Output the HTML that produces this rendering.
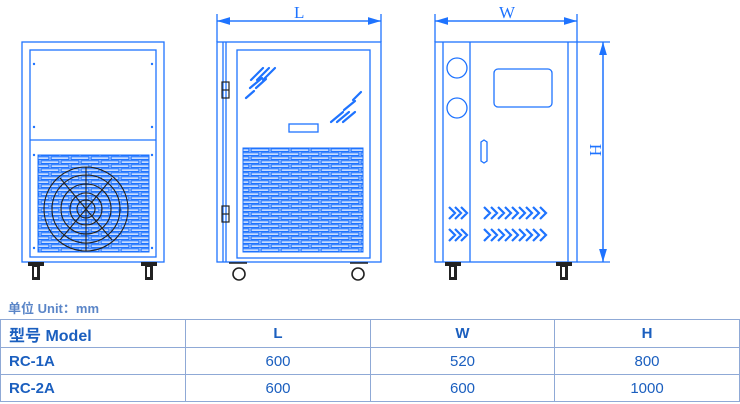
<!DOCTYPE html>
<html><head><meta charset="utf-8"><style>
body{margin:0;background:#fff;width:740px;height:404px;overflow:hidden;font-family:"Liberation Sans","Noto Sans CJK SC",sans-serif}
svg{position:absolute;left:0;top:0}
.u{position:absolute;left:8px;top:298px;font-size:13px;color:#5b86c8;font-weight:bold}
table{position:absolute;left:0;top:319px;width:740px;border-collapse:collapse;color:#1b5fbf;font-size:15px}
td{border:1.5px solid #8fa9d6;height:26px;text-align:center;padding:0}
td.l{text-align:left;padding-left:8px;font-weight:bold}
tr.h td{font-weight:bold;height:27px}
</style></head><body>
<svg width="740" height="295" viewBox="0 0 740 295">
<defs>
<pattern id="g" width="20" height="8" patternUnits="userSpaceOnUse">
<rect x="1" y="0.8" width="18" height="2.6" fill="none" stroke="#1e73ff" stroke-width="1.3"/>
<rect x="-9" y="4.8" width="18" height="2.6" fill="none" stroke="#1e73ff" stroke-width="1.3"/>
<rect x="11" y="4.8" width="18" height="2.6" fill="none" stroke="#1e73ff" stroke-width="1.3"/>
</pattern>
<marker id="a" markerWidth="10" markerHeight="6" refX="10" refY="3" orient="auto"><path d="M0,0L10,3L0,6z" fill="#1e73ff"/></marker>
</defs>
<g fill="none" stroke="#1e73ff" stroke-width="1.3">
<!-- front -->
<rect x="22" y="42" width="142" height="220"/>
<rect x="30" y="50" width="126" height="207"/>
<line x1="30" y1="140" x2="156" y2="140"/>
<rect x="38" y="155" width="111" height="97" fill="url(#g)" stroke-width="1"/>
<g fill="#1e73ff" stroke="none"><circle cx="34" cy="64" r="1.2"/><circle cx="152" cy="64" r="1.2"/><circle cx="34" cy="127" r="1.2"/><circle cx="152" cy="127" r="1.2"/><circle cx="34" cy="155" r="1.2"/><circle cx="152" cy="155" r="1.2"/><circle cx="34" cy="248" r="1.2"/><circle cx="152" cy="248" r="1.2"/></g>
<g stroke="#222" stroke-width="1.1"><circle cx="86" cy="209" r="42"/><circle cx="86" cy="209" r="34"/><circle cx="86" cy="209" r="25"/><circle cx="86" cy="209" r="16"/><circle cx="86" cy="209" r="9"/><line x1="60" y1="178" x2="112" y2="240"/><line x1="112" y1="178" x2="60" y2="240"/><line x1="86" y1="167" x2="86" y2="251"/></g>
<!-- side -->
<line x1="217" y1="14" x2="217" y2="42"/><line x1="381" y1="14" x2="381" y2="42"/>
<line x1="217" y1="21" x2="381" y2="21" marker-end="url(#a)"/><line x1="381" y1="21" x2="217" y2="21" marker-end="url(#a)"/>
<rect x="217" y="42" width="164" height="220"/>
<line x1="223" y1="42" x2="223" y2="262"/><line x1="226" y1="42" x2="226" y2="262"/>
<rect x="237" y="50" width="133" height="208"/>
<rect x="243" y="148" width="120" height="104" fill="url(#g)" stroke-width="1"/>
<rect x="289" y="124" width="29" height="8"/>
<g stroke-width="2.2" stroke-linecap="round"><line x1="251" y1="80" x2="263" y2="68"/><line x1="257" y1="80" x2="269" y2="68"/><line x1="263" y1="80" x2="275" y2="68"/><line x1="250" y1="88" x2="262" y2="78"/><line x1="256" y1="88" x2="266" y2="79"/><line x1="246" y1="98" x2="254" y2="91"/><line x1="331" y1="122" x2="343" y2="112"/><line x1="337" y1="122" x2="349" y2="112"/><line x1="343" y1="122" x2="355" y2="112"/><line x1="344" y1="110" x2="355" y2="101"/><line x1="353" y1="100" x2="361" y2="92"/></g>
<g stroke="#222" stroke-width="1.2"><rect x="222" y="82" width="7" height="16"/><line x1="222" y1="90" x2="229" y2="90"/><rect x="222" y="206" width="7" height="16"/><line x1="222" y1="214" x2="229" y2="214"/></g>
<g stroke="#222" stroke-width="1.6"><circle cx="239" cy="274" r="6"/><circle cx="358" cy="274" r="6"/><line x1="229" y1="263" x2="247" y2="263"/><line x1="350" y1="263" x2="368" y2="263"/></g>
<!-- right -->
<line x1="435" y1="14" x2="435" y2="42"/><line x1="577" y1="14" x2="577" y2="42"/>
<line x1="435" y1="21" x2="577" y2="21" marker-end="url(#a)"/><line x1="577" y1="21" x2="435" y2="21" marker-end="url(#a)"/>
<rect x="435" y="42" width="142" height="220"/>
<line x1="443" y1="42" x2="443" y2="262"/><line x1="470" y1="42" x2="470" y2="262"/><line x1="568" y1="42" x2="568" y2="262"/>
<line x1="577" y1="42" x2="610" y2="42"/><line x1="577" y1="262" x2="610" y2="262"/>
<line x1="603" y1="42" x2="603" y2="262" marker-end="url(#a)"/><line x1="603" y1="262" x2="603" y2="42" marker-end="url(#a)"/>
<circle cx="457" cy="68" r="10"/><circle cx="457" cy="108" r="10"/>
<rect x="494" y="69" width="58" height="38" rx="4"/>
<path d="M481,142L484,140L487,142L487,161L484,163L481,161Z"/>
<g stroke-width="2.2"><path d="M449,207l6,6l-6,6M455,207l6,6l-6,6M461,207l6,6l-6,6M449,229l6,6l-6,6M455,229l6,6l-6,6M461,229l6,6l-6,6M484,207l6,6l-6,6M491,207l6,6l-6,6M498,207l6,6l-6,6M505,207l6,6l-6,6M512,207l6,6l-6,6M519,207l6,6l-6,6M526,207l6,6l-6,6M533,207l6,6l-6,6M540,207l6,6l-6,6M484,229l6,6l-6,6M491,229l6,6l-6,6M498,229l6,6l-6,6M505,229l6,6l-6,6M512,229l6,6l-6,6M519,229l6,6l-6,6M526,229l6,6l-6,6M533,229l6,6l-6,6M540,229l6,6l-6,6"/></g>
</g>
<g fill="#222"><rect x="28" y="262" width="16" height="4"/><rect x="32" y="266" width="8" height="14"/><rect x="141" y="262" width="16" height="4"/><rect x="145" y="266" width="8" height="14"/><rect x="445" y="262" width="16" height="4"/><rect x="449" y="266" width="8" height="14"/><rect x="556" y="262" width="16" height="4"/><rect x="560" y="266" width="8" height="14"/></g>
<g fill="#fff"><rect x="34" y="267" width="3" height="10"/><rect x="147" y="267" width="3" height="10"/><rect x="451" y="267" width="3" height="10"/><rect x="562" y="267" width="3" height="10"/></g>
<g font-family="Liberation Serif,serif" font-size="17" fill="#1e73ff"><text x="294" y="18">L</text><text x="499" y="18">W</text><text x="590" y="150" transform="rotate(90 590 150)" text-anchor="middle">H</text></g>
</svg>
<div class="u">单位 Unit：mm</div>
<table>
<tr class="h"><td class="l" style="width:176px;font-size:16px">型号 Model</td><td style="width:184px">L</td><td style="width:183px">W</td><td>H</td></tr>
<tr><td class="l">RC-1A</td><td>600</td><td>520</td><td>800</td></tr>
<tr><td class="l">RC-2A</td><td>600</td><td>600</td><td>1000</td></tr>
</table>
</body></html>
